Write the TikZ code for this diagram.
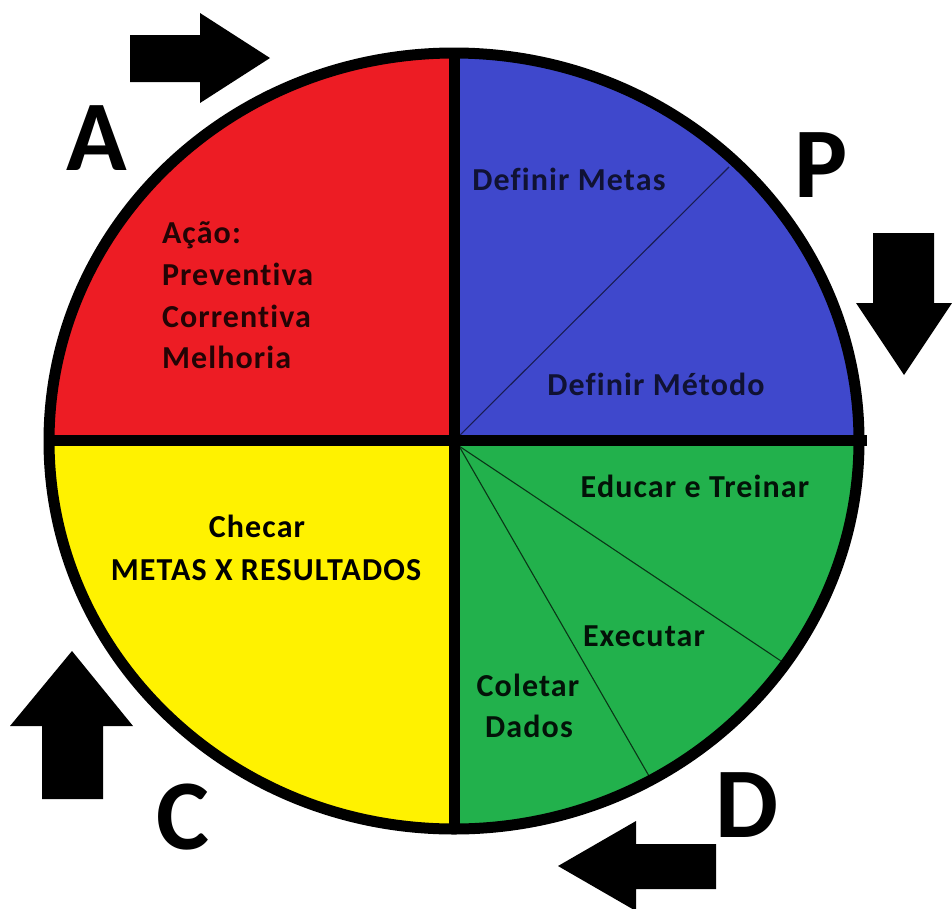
\documentclass[tikz,border=0pt]{standalone}
\usepackage{fontspec}
\setmainfont{Carlito}[Ligatures=NoCommon]
\newfontfamily\labelfont{Carlito}[Ligatures=NoCommon, LetterSpace=3.5]
\begin{document}
\begin{tikzpicture}[x=1pt,y=-1pt,
  every node/.style={inner sep=0pt,outer sep=0pt,font=\labelfont\bfseries\fontsize{32}{32}\selectfont},
  big/.style={font=\bfseries\fontsize{100}{100}\selectfont},
  thick line/.style={line width=11pt},
  thin line/.style={line width=1.1pt},
  pointer/.style={fill=black}]
\definecolor{pdcared}{HTML}{ED1C24}
\definecolor{pdcablue}{HTML}{3F48CC}
\definecolor{pdcayellow}{HTML}{FFF200}
\definecolor{pdcagreen}{HTML}{22B14C}
\useasboundingbox (0,0) rectangle (952,908);
\fill[white] (0,0) rectangle (952,908);

% centre of the wheel and end points of the sub-divisions
\coordinate (O) at (454,441);
\coordinate (Lft) at (47,440);
\coordinate (Rgt) at (867,440);
\coordinate (Top) at (454,50);
\coordinate (Bot) at (454,832);
\coordinate (Pcut) at (729,167);
\coordinate (Og) at (459,446);
\coordinate (Dcut1) at (781,661);
\coordinate (Dcut2) at (649,776);

% coloured quadrants
\begin{scope}
  \clip (O) ellipse [x radius=405pt, y radius=388pt];
  \fill[pdcared] (0,0) rectangle (O);
  \fill[pdcablue] (454,0) rectangle (952,441);
  \fill[pdcayellow] (0,441) rectangle (454,908);
  \fill[pdcagreen] (454,441) rectangle (952,908);
\end{scope}

% thin sub-division lines
\draw[thin line, color=pdcablue!40!black] (O) -- (Pcut);
\draw[thin line, color=pdcagreen!30!black] (Og) -- (Dcut1);
\draw[thin line, color=pdcagreen!30!black] (Og) -- (Dcut2);

% dividers and rim
\draw[thick line] (Lft) -- (Rgt);
\draw[thick line] (Top) -- (Bot);
\draw[thick line] (O) ellipse [x radius=405pt, y radius=388pt];

% cycle arrows
\fill[pointer] (130,35) -- (200,35) -- (200,13) -- (270,58) -- (200,103) -- (200,82) -- (130,82) -- cycle;
\fill[pointer] (873,233) -- (934,233) -- (934,303) -- (952,303) -- (904,375) -- (856,303) -- (873,303) -- cycle;
\fill[pointer] (716,844) -- (636,844) -- (636,821) -- (558,866) -- (636,911) -- (636,889) -- (716,889) -- cycle;
\fill[pointer] (42,799) -- (42,726) -- (10,726) -- (72,651) -- (133,726) -- (103,726) -- (103,799) -- cycle;

% phase letters
\node[big, anchor=base] (la) at (97,170) {A};
\node[big, anchor=base] (lp) at (821,197) {P};
\node[big, anchor=base] (lc) at (183,849) {C};
\node[big, anchor=base] (ld) at (747,837) {D};

% A
\node[anchor=base west, text=pdcared!15!black] (a1) at (162,243) {Ação:};
\node[anchor=base west, text=pdcared!15!black] (a2) at (162,285) {Preventiva};
\node[anchor=base west, text=pdcared!15!black] (a3) at (162,327) {Correntiva};
\node[anchor=base west, text=pdcared!15!black] (a4) at (162,368) {Melhoria};

% P
\node[anchor=base, text=pdcablue!25!black] (p1) at (569,190) {Definir Metas};
\node[anchor=base, text=pdcablue!25!black] (p2) at (656,395) {Definir Método};

% C
\node[anchor=base, text=black] (c1) at (257,537) {Checar};
\node[anchor=base, text=black] (c2) at (266,580) {METAS X RESULTADOS};

% D
\node[anchor=base, text=pdcagreen!10!black] (d1) at (695,497) {Educar e Treinar};
\node[anchor=base, text=pdcagreen!10!black] (d2) at (644,646) {Executar};
\node[anchor=base, text=pdcagreen!10!black] (d3) at (528,696) {Coletar};
\node[anchor=base, text=pdcagreen!10!black] (d4) at (529,737) {Dados};
\end{tikzpicture}
\end{document}
